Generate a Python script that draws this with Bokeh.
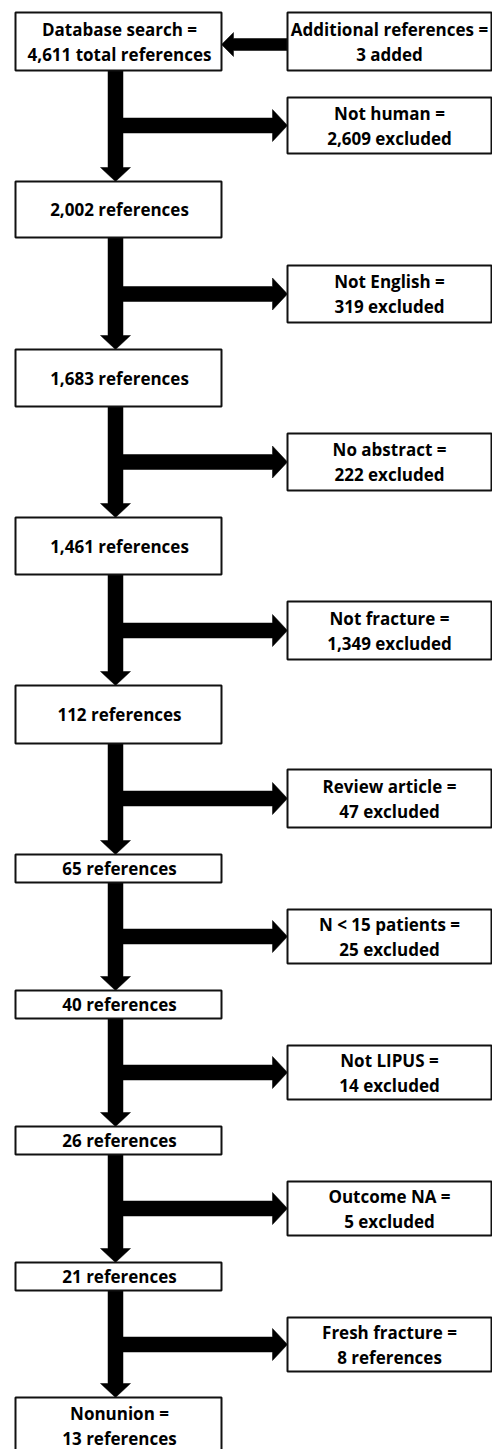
from bokeh.plotting import figure
from bokeh.models import Range1d, ColumnDataSource
from bokeh.embed import file_html
from bokeh.resources import INLINE
from bokeh.core.properties import value

# ---- data ----
stage_counts = [4611, 2002, 1683, 1461, 112, 65, 40, 26, 21, 13]
first_stage_label = "Database search ="
last_stage_label = "Nonunion ="
added_label = "Additional references ="
added_count = 3
excluded_reasons = ["Not human", "Not English", "No abstract", "Not fracture",
                    "Review article", "N < 15 patients", "Not LIPUS",
                    "Outcome NA", "Fresh fracture"]
excluded_counts = [2609, 319, 222, 1349, 47, 25, 14, 5, 8]
excluded_units = ["excluded", "excluded", "excluded", "excluded", "excluded",
                  "excluded", "excluded", "excluded", "references"]

# ---- layout (pixel-like coordinates, y downward) ----
LX0, LX1 = 15, 221          # left column boxes
RX0, RX1 = 287, 491         # right column boxes
left_tops = [12, 181, 349, 517, 685, 854, 990, 1126, 1262, 1397]
left_bottoms = [70, 237, 406, 574, 743, 882, 1018, 1154, 1290, 1475]
right_tops = [97, 265, 433, 601, 769, 909, 1045, 1181, 1317]
right_bottoms = [153, 322, 490, 659, 827, 963, 1099, 1235, 1371]
added_top, added_bottom = 12, 70

SHAFT_C = 115
SHAFT_W = 15
HEAD_W = 30
HEAD_L = 14
BR_W = 15
BR_HEAD_H = 32
BR_HEAD_L = 15

W, H = 492, 1449
p = figure(width=W, height=H, output_backend="svg", toolbar_location=None,
           x_range=Range1d(0, W), y_range=Range1d(H, 0),
           min_border=0, min_border_left=0, min_border_right=0,
           min_border_top=0, min_border_bottom=0)
p.axis.visible = False
p.grid.visible = False
p.outline_line_color = None
p.background_fill_color = "white"
p.border_fill_color = "white"

# arrows
xs, ys = [], []
sl, sr = SHAFT_C - SHAFT_W / 2, SHAFT_C + SHAFT_W / 2
for i in range(len(left_tops) - 1):
    b = left_bottoms[i]
    t = left_tops[i + 1]
    xs.append([sl, sr, sr, SHAFT_C + HEAD_W / 2, SHAFT_C, SHAFT_C - HEAD_W / 2, sl])
    ys.append([b, b, t - HEAD_L, t - HEAD_L, t, t - HEAD_L, t - HEAD_L])
for top, bot in zip(right_tops, right_bottoms):
    c = (top + bot) / 2
    x0 = sr - 1
    xh = RX0 - BR_HEAD_L
    xs.append([x0, xh, xh, RX0, xh, xh, x0])
    ys.append([c - BR_W / 2, c - BR_W / 2, c - BR_HEAD_H / 2, c,
               c + BR_HEAD_H / 2, c + BR_W / 2, c + BR_W / 2])
# left-pointing arrow from the "added" box
ac = 44
xh = LX1 + 12
xs.append([RX0, xh, xh, LX1, xh, xh, RX0])
ys.append([ac - 6, ac - 6, ac - 12, ac, ac + 12, ac + 6, ac + 6])
p.patches(xs=xs, ys=ys, fill_color="black", line_color="black", line_width=0.5)

# boxes
bl = [LX0] * len(left_tops) + [RX0] * len(right_tops) + [RX0]
br = [LX1] * len(left_tops) + [RX1] * len(right_tops) + [RX1]
bt = left_tops + right_tops + [added_top]
bb = left_bottoms + right_bottoms + [added_bottom]
p.quad(left=bl, right=br, top=bt, bottom=bb, fill_color="white",
       line_color="#111111", line_width=2)

# texts
tx, ty, tt = [], [], []
DY = 12.5
for i, n in enumerate(stage_counts):
    cx = (LX0 + LX1) / 2 + 1
    cy = (left_tops[i] + left_bottoms[i]) / 2
    if i == 0:
        lines = [first_stage_label, f"{n:,} total references"]
    elif i == len(stage_counts) - 1:
        lines = [last_stage_label, f"{n:,} references"]
        cy = left_tops[i] + 28.5
    else:
        lines = [f"{n:,} references"]
    if len(lines) == 2:
        tx += [cx, cx]; ty += [cy - DY, cy + DY]; tt += lines
    else:
        tx.append(cx); ty.append(cy); tt += lines
for top, bot, r, n, u in zip(right_tops, right_bottoms, excluded_reasons,
                             excluded_counts, excluded_units):
    cx = (RX0 + RX1) / 2
    cy = (top + bot) / 2
    tx += [cx, cx]; ty += [cy - DY, cy + DY]
    tt += [f"{r} =", f"{n:,} {u}"]
cx = (RX0 + RX1) / 2
cy = (added_top + added_bottom) / 2
tx += [cx, cx]; ty += [cy - DY, cy + DY]
tt += [added_label, f"{added_count} added"]

src = ColumnDataSource(dict(x=tx, y=ty, text=tt))
p.text(x="x", y="y", text="text", source=src, text_align="center",
       text_baseline="middle", text_font=value("Open Sans"), text_font_style="bold",
       text_font_size="17px", text_color="black")

open("out.html", "w").write(file_html(p, INLINE))
